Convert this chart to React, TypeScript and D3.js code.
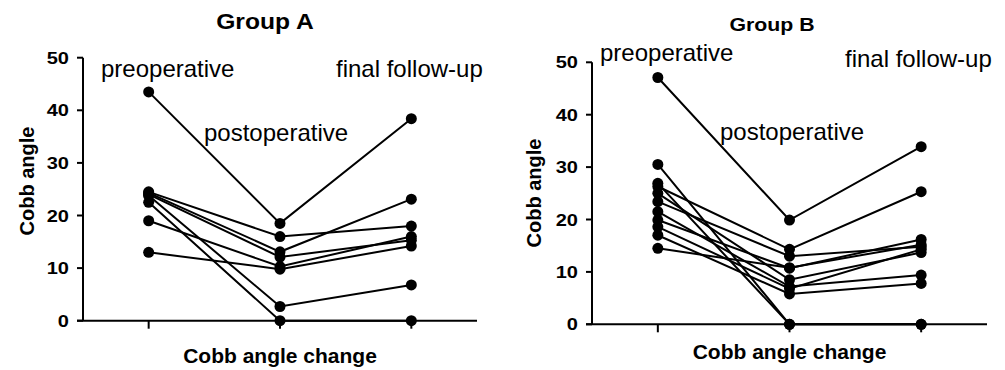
import { useEffect } from 'react';
import * as d3 from 'd3';

const stages = ['preoperative', 'postoperative', 'final follow-up'];
const yTicks = [0, 10, 20, 30, 40, 50];

// one entry per patient, same order in each array
const groupAPre = [43.5, 24.5, 24.3, 24.0, 19.0, 13.0, 23.8, 22.5];
const groupAPost = [18.5, 16.0, 13.1, 12.1, 10.3, 9.8, 2.7, 0];
const groupAFinal = [38.4, 18.0, 23.1, 15.3, 16.0, 14.2, 6.8, 0];

const groupBPre = [47.1, 30.5, 26.9, 26.3, 25.0, 23.4, 21.5, 19.9, 18.6, 17.0, 14.5];
const groupBPost = [19.9, 0, 0, 14.3, 8.5, 13.0, 7.2, 10.7, 6.8, 5.8, 10.8];
const groupBFinal = [33.9, 0, 0, 25.3, 13.7, 14.8, 9.4, 16.2, 14.3, 7.8, 15.2];

const FONT = '"Liberation Sans", Arial, sans-serif';

interface PanelProps {
  title: string;
  pre: number[];
  post: number[];
  fin: number[];
  axisX: number;
  xEnd: number;
  y0: number;
  y50: number;
  titleX: number;
  titleY: number;
  titleSize: number;
  yLabelX: number;
  yLabelY: number;
  xLabelY: number;
  labelPos: { x: number; y: number }[];
}

function Panel(p: PanelProps) {
  const x = d3.scalePoint<string>().domain(stages).range([p.axisX, p.xEnd]).padding(0.5);
  const y = d3.scaleLinear().domain([0, 50]).range([p.y0, p.y50]);
  const line = d3
    .line<[string, number]>()
    .x((d) => x(d[0]) ?? 0)
    .y((d) => y(d[1]));
  const patients = p.pre.map((v, i) => [
    [stages[0], v],
    [stages[1], p.post[i]],
    [stages[2], p.fin[i]],
  ] as [string, number][]);

  return (
    <g>
      <text
        transform={`translate(${p.titleX},${p.titleY}) scale(1.12,1)`}
        textAnchor="middle"
        fontSize={p.titleSize}
        fontWeight="bold"
        fontFamily={FONT}
      >
        {p.title}
      </text>
      {/* y axis */}
      <line x1={p.axisX} x2={p.axisX} y1={y(0)} y2={y(50)} stroke="#000" strokeWidth={2} />
      {yTicks.map((t) => (
        <g key={t}>
          <line x1={p.axisX - 6} x2={p.axisX} y1={y(t)} y2={y(t)} stroke="#000" strokeWidth={2} />
          <text
            transform={`translate(${p.axisX - 14},${y(t) + 6}) scale(1.25,1)`}
            textAnchor="end"
            fontSize={16}
            fontWeight="bold"
            fontFamily={FONT}
          >
            {t}
          </text>
        </g>
      ))}
      {/* x axis */}
      <line x1={p.axisX - 6} x2={p.xEnd} y1={y(0)} y2={y(0)} stroke="#000" strokeWidth={2} />
      {stages.map((s) => (
        <line key={s} x1={x(s)} x2={x(s)} y1={y(0)} y2={y(0) + 8} stroke="#000" strokeWidth={2} />
      ))}
      <text
        transform={`translate(${p.yLabelX},${p.yLabelY}) rotate(-90)`}
        textAnchor="middle"
        fontSize={20}
        fontWeight="bold"
        fontFamily={FONT}
      >
        Cobb angle
      </text>
      <text x={(p.axisX + p.xEnd) / 2} y={p.xLabelY} textAnchor="middle" fontSize={21} fontWeight="bold" fontFamily={FONT}>
        Cobb angle change
      </text>
      {stages.map((s, i) => (
        <text key={s} x={p.labelPos[i].x} y={p.labelPos[i].y} fontSize={24} fontFamily={FONT}>
          {s}
        </text>
      ))}
      {patients.map((pts, i) => (
        <g key={i}>
          <path d={line(pts) ?? ''} fill="none" stroke="#000" strokeWidth={2} />
          {pts.map((d, j) => (
            <circle key={j} cx={x(d[0])} cy={y(d[1])} r={5.5} fill="#000" />
          ))}
        </g>
      ))}
    </g>
  );
}

export default function App() {
  useEffect(() => {
    document.body.style.margin = '0';
  }, []);

  return (
    <svg width={1005} height={370} style={{ display: 'block', background: '#fff' }}>
      <Panel
        title="Group A"
        pre={groupAPre}
        post={groupAPost}
        fin={groupAFinal}
        axisX={83}
        xEnd={477}
        y0={320.7}
        y50={57.7}
        titleX={265}
        titleY={29}
        titleSize={22}
        yLabelX={34}
        yLabelY={181}
        xLabelY={363}
        labelPos={[
          { x: 101, y: 77 },
          { x: 204, y: 141 },
          { x: 336, y: 77 },
        ]}
      />
      <Panel
        title="Group B"
        pre={groupBPre}
        post={groupBPost}
        fin={groupBFinal}
        axisX={592}
        xEnd={987}
        y0={324.3}
        y50={62.3}
        titleX={772}
        titleY={31}
        titleSize={19}
        yLabelX={541}
        yLabelY={193}
        xLabelY={359}
        labelPos={[
          { x: 600, y: 61 },
          { x: 720, y: 140 },
          { x: 845, y: 67 },
        ]}
      />
    </svg>
  );
}
